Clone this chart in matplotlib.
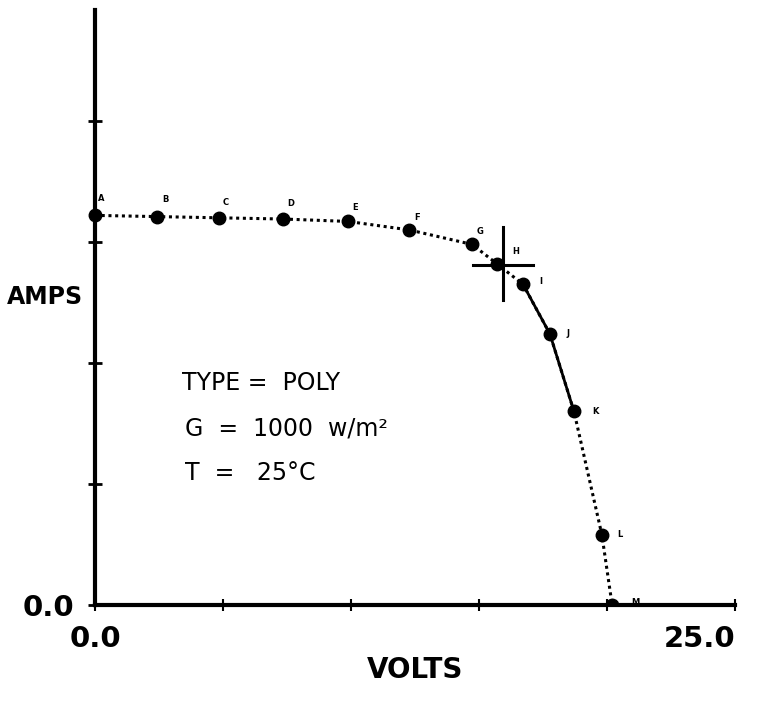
import matplotlib
matplotlib.use("Agg")
import matplotlib.pyplot as plt

# ---- data ----
point_labels = ["A", "B", "C", "D", "E", "F", "G", "H", "I", "J", "K", "L", "M"]
volts = [0.0, 2.42, 4.84, 7.34, 9.88, 12.27, 14.73, 15.70, 16.72, 17.77, 18.71, 19.80, 20.2]
amps = [3.22, 3.21, 3.20, 3.19, 3.17, 3.10, 2.98, 2.82, 2.65, 2.24, 1.60, 0.58, 0.0]
mpp_v, mpp_i = 15.94, 2.81
x_ticks = [0, 5, 10, 15, 20, 25]
x_tick_labels = ["0.0", "", "", "", "", "25.0"]
y_ticks = [0, 1, 2, 3, 4]
y_tick_labels = ["0.0", "", "", "", ""]
info_lines = ["TYPE =  POLY", "G  =  1000  w/m\u00b2", "T  =   25\u00b0C"]

block_font = "DejaVu Sans"

fig = plt.figure(figsize=(7.62, 7.02), dpi=100)
ax = fig.add_axes([95 / 762, 97 / 702, 640 / 762, 595 / 702])
ax.set_xlim(0, 25)
ax.set_ylim(0, 595 / 121)

for s in ["top", "right"]:
    ax.spines[s].set_visible(False)
ax.spines["left"].set_linewidth(3)
ax.spines["bottom"].set_linewidth(3)

# curve
ax.plot(volts, amps, color="black", linestyle=(0, (1, 1.2)), linewidth=2.2, clip_on=False)
ax.plot(volts[8:11], amps[8:11], color="black", linewidth=2.0, clip_on=False)
ax.plot(volts[:-1], amps[:-1], "o", color="black", markersize=9, clip_on=False)
ax.plot(volts[-1:], amps[-1:], "o", color="black", markersize=9, clip_on=True)

# point letters
offsets = [(2, -12), (4, -12), (3, -11), (3, -11), (3, -10), (4, -9), (3, -9),
           (11, -9), (12, -2), (12, 0), (13, 0), (11, 0), (14, -2)]
for lab, v, i, (dx, dy) in zip(point_labels, volts, amps, offsets):
    ax.annotate(lab, (v, i), xytext=(dx, -dy), textcoords="offset points",
                fontsize=6, fontweight="bold", ha="left", va="center",
                annotation_clip=False)

# max power point crosshair
ax.plot([mpp_v, mpp_v], [mpp_i - 0.29, mpp_i + 0.31], color="black", linewidth=2.2)
ax.plot([mpp_v - 1.17, mpp_v + 1.17], [mpp_i, mpp_i], color="black", linewidth=2.2)

# ticks
ax.set_xticks(x_ticks)
ax.set_xticklabels(x_tick_labels)
ax.set_yticks(y_ticks)
ax.set_yticklabels(y_tick_labels)
ax.tick_params(axis="both", direction="inout", length=10, width=2, colors="black")
ax.tick_params(axis="x", width=1.5, length=9, pad=10)
ax.tick_params(axis="y", pad=10)
for lbl in ax.get_xticklabels() + ax.get_yticklabels():
    lbl.set_fontfamily(block_font)
    lbl.set_fontweight("bold")
    lbl.set_fontsize(21)
xl = ax.get_xticklabels()
xl[-1].set_horizontalalignment("right")

ax.set_xlabel("VOLTS", fontfamily=block_font, fontweight="bold", fontsize=20, labelpad=2)
fig.text(45 / 762, 1 - 297 / 702, "AMPS", fontfamily=block_font, fontweight="bold",
         fontsize=17, ha="center", va="center")

# annotation block
for k, line in enumerate(info_lines):
    ax.text(3.4 + (0.1 if k else 0), (605 - 383 - 45 * k) / 121, line,
            fontsize=17, fontfamily="DejaVu Sans", ha="left", va="center")

fig.savefig("out.png", dpi=100, facecolor="white")
